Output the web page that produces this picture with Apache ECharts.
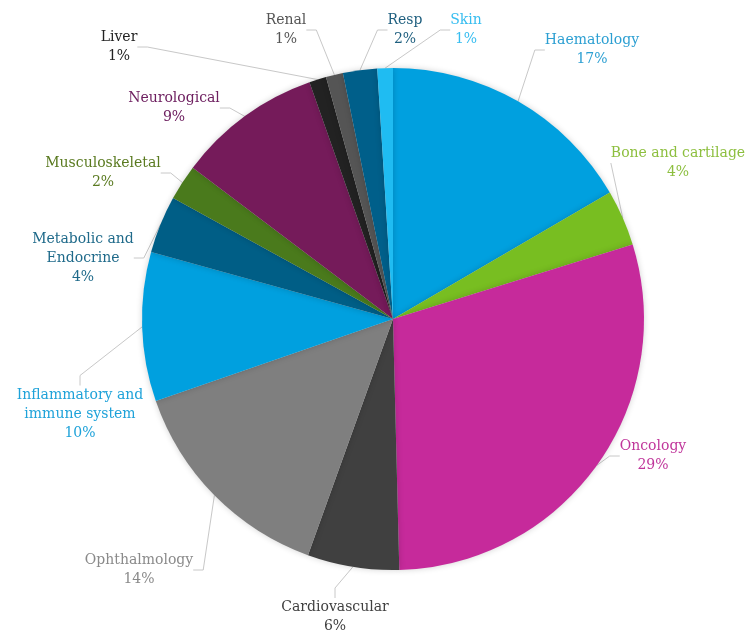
<!DOCTYPE html>
<html>
<head>
<meta charset="utf-8">
<script src="https://cdn.jsdelivr.net/npm/echarts@6/dist/echarts.min.js"></script>
<style>
  html, body { margin: 0; padding: 0; background: #fff; }
  #main { width: 747px; height: 634px; }
</style>
</head>
<body>
<div id="main"></div>
<script>
// share of projects by therapy area (%), clockwise from 12 o'clock
var categories = ['Haematology', 'Bone and cartilage', 'Oncology', 'Cardiovascular', 'Ophthalmology',
    'Inflammatory and\nimmune system', 'Metabolic and\nEndocrine', 'Musculoskeletal', 'Neurological',
    'Liver', 'Renal', 'Resp', 'Skin'];
var values = [16.6, 3.6, 29.4, 5.9, 14.2, 9.6, 3.7, 2.3, 9.3, 1.1, 1.1, 2.2, 1.0];

var sliceColors = ['#00a0df', '#78be21', '#c62a9b', '#404040', '#7f7f7f', '#00a0df', '#005e86',
    '#4a7a1c', '#751b5a', '#222222', '#555555', '#005f8a', '#1fbcf2'];
var labelColors = ['#2c9fd2', '#8dbf3f', '#c0369b', '#404040', '#8a8a8a', '#1ea2d9', '#1f6a8a',
    '#5a7a20', '#6e2060', '#222222', '#555555', '#1f5f7f', '#36bdf0'];
// where each label block is centred
var labelAt = [[592, 50], [678, 163], [653, 456], [335, 617], [139, 570], [80, 414], [83, 258],
    [103, 173], [174, 108], [119, 47], [286, 30], [405, 30], [466, 30]];

var chart = echarts.init(document.getElementById('main'));

var data = categories.map(function (name, i) {
    return {
        name: name,
        value: values[i],
        itemStyle: { color: sliceColors[i] },
        label: { color: labelColors[i] }
    };
});

chart.setOption({
    backgroundColor: '#ffffff',
    animation: false,
    series: [{
        type: 'pie',
        center: [393, 319],
        radius: 251,
        startAngle: 90,
        clockwise: true,
        percentPrecision: 0,
        data: data,
        itemStyle: {
            borderWidth: 0,
            shadowBlur: 6,
            shadowColor: 'rgba(0,0,0,0.18)'
        },
        label: {
            show: true,
            position: 'outside',
            formatter: '{b}\n{d}%',
            fontFamily: 'DejaVu Serif',
            fontSize: 14,
            lineHeight: 19,
            align: 'center',
            overflow: 'none'
        },
        labelLine: {
            show: true,
            length: 10,
            length2: 10,
            lineStyle: { color: '#c8c8c8', width: 1 }
        },
        labelLayout: function (p) {
            var pos = labelAt[p.dataIndex];
            return { x: pos[0], y: pos[1], align: 'center', verticalAlign: 'middle' };
        }
    }]
});
</script>
</body>
</html>
